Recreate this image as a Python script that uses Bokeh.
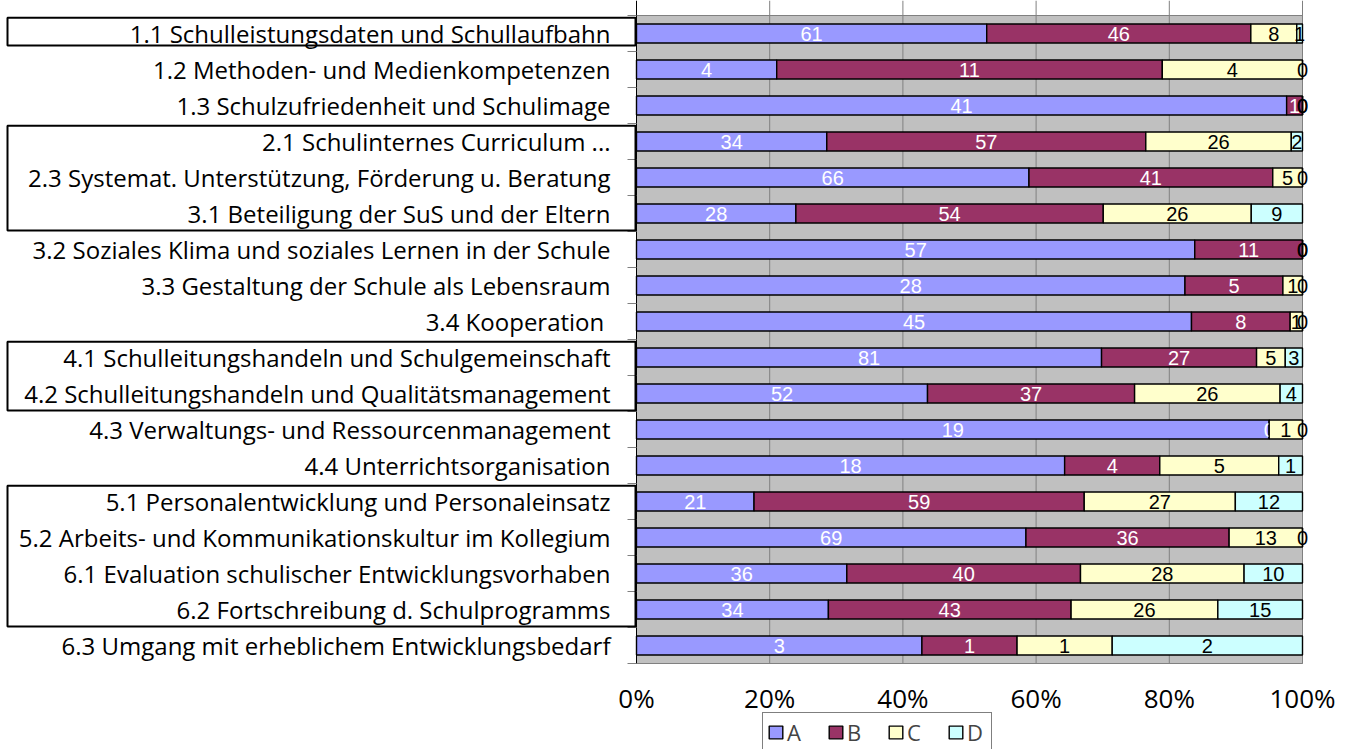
from bokeh.plotting import figure
from bokeh.models import Range1d, ColumnDataSource, Legend, LegendItem
from bokeh.core.properties import value
from bokeh.embed import file_html
from bokeh.resources import INLINE

categories = [
    "1.1 Schulleistungsdaten und Schullaufbahn",
    "1.2 Methoden- und Medienkompetenzen",
    "1.3 Schulzufriedenheit und Schulimage",
    "2.1 Schulinternes Curriculum ...",
    "2.3 Systemat. Unterstützung, Förderung u. Beratung",
    "3.1 Beteiligung der SuS und der Eltern",
    "3.2 Soziales Klima und soziales Lernen in der Schule",
    "3.3 Gestaltung der Schule als Lebensraum",
    "3.4 Kooperation ",
    "4.1 Schulleitungshandeln und Schulgemeinschaft",
    "4.2 Schulleitungshandeln und Qualitätsmanagement",
    "4.3 Verwaltungs- und Ressourcenmanagement",
    "4.4 Unterrichtsorganisation",
    "5.1 Personalentwicklung und Personaleinsatz",
    "5.2 Arbeits- und Kommunikationskultur im Kollegium",
    "6.1 Evaluation schulischer Entwicklungsvorhaben",
    "6.2 Fortschreibung d. Schulprogramms",
    "6.3 Umgang mit erheblichem Entwicklungsbedarf",
]
A = [61, 4, 41, 34, 66, 28, 57, 28, 45, 81, 52, 19, 18, 21, 69, 36, 34, 3]
B = [46, 11, 1, 57, 41, 54, 11, 5, 8, 27, 37, 0, 4, 59, 36, 40, 43, 1]
C = [8, 4, 0, 26, 5, 26, 0, 1, 1, 5, 26, 1, 5, 27, 13, 28, 26, 1]
D = [1, 0, 0, 2, 0, 9, 0, 0, 0, 3, 4, 0, 1, 12, 0, 10, 15, 2]
series_names = ["A", "B", "C", "D"]
x_ticks = [0.0, 0.2, 0.4, 0.6, 0.8, 1.0]
x_tick_labels = ["0%", "20%", "40%", "60%", "80%", "100%"]
# groups of categories framed on the left (first index, last index)
group_first = [0, 3, 9, 13]
group_last = [0, 5, 10, 16]

colors = ["#9999FF", "#993366", "#FFFFCC", "#CCFFFF"]
text_colors = ["white", "white", "black", "black"]

N = len(categories)
idx = list(range(N))
totals = [a + b + c + d for a, b, c, d in zip(A, B, C, D)]

# layout: frame fills the whole figure
W, H = 1351, 749
PX = 666.0          # pixels per 100%
X0 = 636.0          # figure x of 0%
ROW = 36.0          # pixels per category
Y0 = 33.0           # figure y of first category center
xr = Range1d(-X0 / PX, (W - X0) / PX)
yr = Range1d((H - Y0) / ROW, -Y0 / ROW)

p = figure(width=W, height=H, x_range=xr, y_range=yr, min_border=0,
           toolbar_location=None, output_backend="svg",
           x_axis_location=None, y_axis_location=None)
p.grid.visible = False
p.outline_line_color = None
p.background_fill_color = "white"

top_y = -Y0 / ROW
bottom_y = N - 0.5

# plot area background
p.quad(left=[0], right=[1], top=[-0.5], bottom=[bottom_y],
       fill_color="#C0C0C0", line_color="#808080", line_width=1)
# vertical gridlines
inner = x_ticks[1:]
p.segment(x0=inner, y0=[top_y] * len(inner), x1=inner, y1=[bottom_y] * len(inner),
          line_color="#808080", line_width=1)
# left axis line and ticks
p.segment(x0=[0], y0=[top_y], x1=[0], y1=[bottom_y], line_color="black", line_width=1)
bnd = [i - 0.5 for i in range(N + 1)]
p.segment(x0=[-9 / PX] * len(bnd), y0=bnd, x1=[0] * len(bnd), y1=bnd,
          line_color="#808080", line_width=1)

renderers = []
cum = [0.0] * N
for name, vals, col, tcol in zip(series_names, [A, B, C, D], colors, text_colors):
    left = [c for c in cum]
    right = [c + v / t for c, v, t in zip(cum, vals, totals)]
    mid = [(l + r) / 2 for l, r in zip(left, right)]
    src = ColumnDataSource(dict(y=idx, left=left, right=right, mid=mid,
                                lab=[str(v) for v in vals]))
    r = p.hbar(y="y", left="left", right="right", height=0.53, source=src,
               fill_color=col, line_color="black", line_width=1.4)
    renderers.append(r)
    p.text(x="mid", y="y", text="lab", source=src, text_align="center",
           text_baseline="middle", text_color=tcol, text_font_size="20px",
           text_font=value("Liberation Sans"))
    cum = right

# category labels
p.text(x=[-26 / PX] * N, y=idx, text=categories, text_align="right",
       text_baseline="middle", text_font_size="24px", text_font=value("Open Sans"),
       text_color="black")

# group boxes
box_top = [g - 0.44 for g in group_first]
box_bottom = [g + (0.33 if g == f else 0.47) for f, g in zip(group_first, group_last)]
p.quad(left=[-629 / PX] * len(group_first), right=[-1 / PX] * len(group_first),
       top=box_top, bottom=box_bottom, fill_color=None, line_color="black", line_width=2)

# x tick labels
p.text(x=x_ticks, y=[(697 - Y0) / ROW] * len(x_ticks), text=x_tick_labels,
       text_align="center", text_baseline="middle", text_font_size="26px",
       text_font=value("Open Sans"), text_color="black")

legend = Legend(items=[LegendItem(label=n, renderers=[r]) for n, r in zip(series_names, renderers)],
                orientation="horizontal", location=(762, -3), padding=4, spacing=20,
                glyph_width=17, glyph_height=16, label_standoff=3,
                label_text_font_size="22px", label_text_font="Open Sans",
                border_line_color="black", border_line_width=1, margin=0,
                background_fill_color="white", background_fill_alpha=1)
p.add_layout(legend)

open("out.html", "w").write(file_html(p, INLINE))
